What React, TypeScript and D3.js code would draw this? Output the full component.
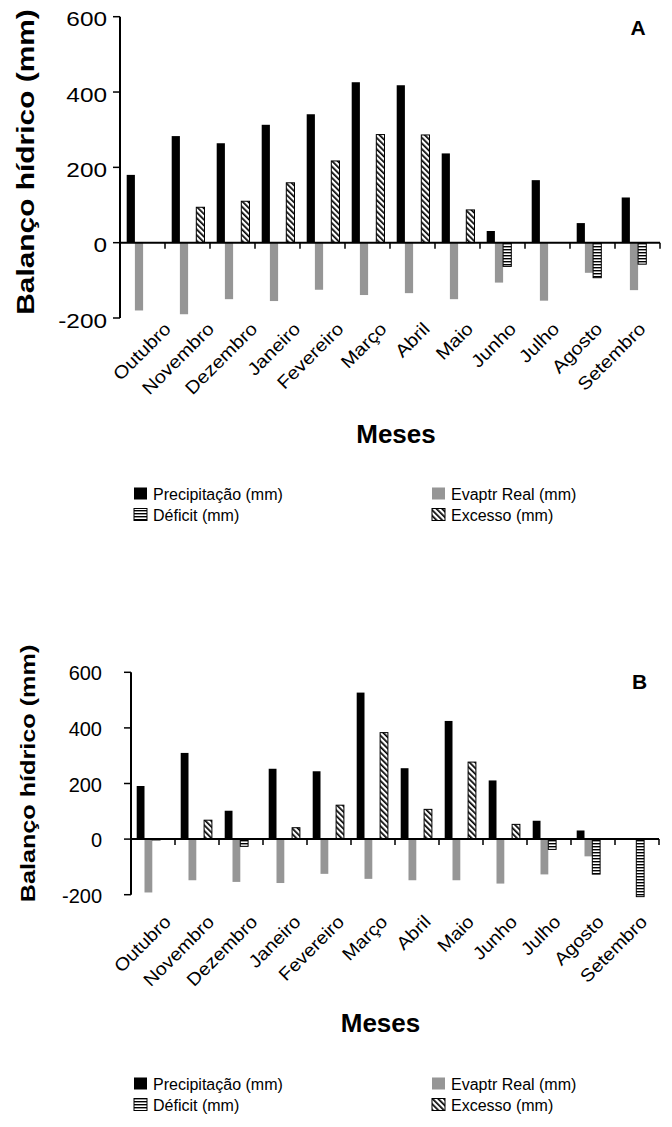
import React from "react";
import * as d3 from "d3";

const months = ["Outubro", "Novembro", "Dezembro", "Janeiro", "Fevereiro", "Março", "Abril", "Maio", "Junho", "Julho", "Agosto", "Setembro"];
const seriesKeys = ["prec", "evap", "def", "exc"];
const legendLabels = ["Precipitação (mm)", "Evaptr Real (mm)", "Déficit (mm)", "Excesso (mm)"];
const yTicks = [-200, 0, 200, 400, 600];

const precipA = [180, 283, 264, 313, 341, 426, 418, 237, 31, 166, 52, 120];
const evapA = [-180, -190, -150, -155, -125, -139, -134, -150, -106, -154, -80, -126];
const deficitA = [0, 0, 0, 0, 0, 0, 0, 0, -63, 0, -93, -57];
const excessoA = [0, 94, 110, 159, 217, 287, 286, 87, 0, 0, 0, 0];

const precipB = [191, 310, 102, 253, 244, 527, 255, 425, 211, 66, 31, 0];
const evapB = [-192, -148, -154, -158, -125, -143, -148, -148, -160, -127, -62, -3];
const deficitB = [-3, 0, -26, 0, 0, 0, 0, 0, 0, -37, -126, -207];
const excessoB = [0, 68, 0, 41, 122, 383, 107, 277, 53, 0, 0, 0];

const FONT = "'Liberation Sans', Arial, Helvetica, sans-serif";
const GRAY = "#969696";

function fillFor(key: string) {
  if (key === "prec") return "#000";
  if (key === "evap") return GRAY;
  if (key === "def") return "url(#hstripe)";
  return "url(#dstripe)";
}

function SText(props: any) {
  const { x, y, rotate = 0, sx = 1, size, weight = "normal", anchor = "start", children } = props;
  return (
    <g transform={`translate(${x},${y}) rotate(${rotate}) scale(${sx},1)`}>
      <text fontFamily={FONT} fontSize={size} fontWeight={weight} textAnchor={anchor} fill="#000">
        {children}
      </text>
    </g>
  );
}

function Chart(props: any) {
  const { cfg, values, letter } = props;
  const x0 = d3.scaleBand().domain(months).range(cfg.xRange).paddingInner(0).paddingOuter(0);
  const x1 = d3.scaleBand().domain(seriesKeys).range([cfg.barOffset, cfg.barOffset + 4 * cfg.barW]);
  const y = d3.scaleLinear().domain([-200, 600]).range(cfg.yRange);
  const y0 = y(0);
  const bw = x0.bandwidth();
  const bars: any[] = [];
  months.forEach((m, i) => {
    seriesKeys.forEach((k, j) => {
      const v = values[j][i];
      if (v === 0) return;
      const bx = (x0(m) as number) + (x1(k) as number);
      const top = Math.min(y(v), y0);
      const h = Math.abs(y(v) - y0);
      const patterned = k === "def" || k === "exc";
      bars.push(
        <rect key={m + k} x={bx} y={top} width={x1.bandwidth()} height={h}
          fill={fillFor(k)} stroke={patterned ? "#000" : "none"} strokeWidth={patterned ? 1 : 0} />
      );
    });
  });
  const [xs, xe] = cfg.xRange;
  const [yb, yt] = cfg.yRange;
  const lg = cfg.legend;
  return (
    <g>
      {bars}
      <line x1={xs} x2={xs} y1={yt} y2={yb} stroke="#000" strokeWidth={2} />
      {yTicks.map((t) => (
        <g key={t}>
          <line x1={xs - 7} x2={xs} y1={y(t)} y2={y(t)} stroke="#000" strokeWidth={1.5} />
          <SText x={cfg.yLabelRight} y={y(t) + cfg.yLabelDy} sx={cfg.yLabelSx} size={cfg.yLabelSize} anchor="end">{String(t)}</SText>
        </g>
      ))}
      <line x1={xs} x2={xe} y1={y0} y2={y0} stroke="#000" strokeWidth={2} />
      {months.map((m) => (
        <line key={m} x1={(x0(m) as number) + bw} x2={(x0(m) as number) + bw} y1={y0} y2={y0 + 6} stroke="#000" strokeWidth={1.5} />
      ))}
      {months.map((m) => {
        const c = (x0(m) as number) + bw / 2;
        const lx = cfg.lblX0 + cfg.lblK * (c - cfg.lblC0);
        return (
          <SText key={m} x={lx} y={cfg.lblY} rotate={-45} sx={cfg.lblSx} size={cfg.lblSize} anchor="end">{m}</SText>
        );
      })}
      <SText x={cfg.titleX} y={cfg.titleY} rotate={-90} sx={cfg.titleSx} size={cfg.titleSize} weight="bold" anchor="middle">Balanço hídrico (mm)</SText>
      <SText x={cfg.mesesX} y={cfg.mesesY} size={26} weight="bold" anchor="middle">Meses</SText>
      <SText x={cfg.letterX} y={cfg.letterY} size={21} weight="bold" anchor="middle">{letter}</SText>
      {legendLabels.map((l, i) => {
        const col = i % 2;
        const row = Math.floor(i / 2);
        const ix = lg.iconX[col];
        const by = lg.rows[row];
        const key = seriesKeys[i];
        const patterned = key === "def" || key === "exc";
        return (
          <g key={l}>
            <rect x={ix} y={by - 12.5} width={13} height={12} fill={fillFor(key)}
              stroke={patterned ? "#000" : "none"} strokeWidth={patterned ? 1 : 0} />
            <SText x={lg.textX[col]} y={by} size={16}>{l}</SText>
          </g>
        );
      })}
    </g>
  );
}

const cfgA = {
  xRange: [120, 660], yRange: [318, 16.7], barOffset: 6.7, barW: 8.2,
  yLabelRight: 107, yLabelDy: 9.5, yLabelSx: 1.25, yLabelSize: 19.5,
  lblX0: 172, lblK: 0.959, lblC0: 142.5, lblY: 330, lblSx: 1.12, lblSize: 18,
  titleX: 34, titleY: 162, titleSx: 1.3, titleSize: 23,
  mesesX: 396, mesesY: 443, letterX: 638, letterY: 35,
  legend: { iconX: [134, 432], textX: [153, 451], rows: [500, 521] },
};

const cfgB = {
  xRange: [131, 659], yRange: [894.7, 672.3], barOffset: 5.7, barW: 7.8,
  yLabelRight: 102, yLabelDy: 8, yLabelSx: 1, yLabelSize: 20,
  lblX0: 172, lblK: 0.984, lblC0: 153, lblY: 923, lblSx: 1.1, lblSize: 18,
  titleX: 34.5, titleY: 773.5, titleSx: 1.2, titleSize: 21,
  mesesX: 380.5, mesesY: 1032, letterX: 639.5, letterY: 689,
  legend: { iconX: [134, 432], textX: [153, 451], rows: [1090, 1111] },
};

export default function App() {
  return (
    <svg width={672} height={1127} style={{ position: "absolute", left: 0, top: 0, background: "#fff" }}>
      <defs>
        <pattern id="hstripe" patternUnits="userSpaceOnUse" width={4} height={3}>
          <rect width={4} height={3} fill="#fff" />
          <rect y={0} width={4} height={1.4} fill="#000" />
        </pattern>
        <pattern id="dstripe" patternUnits="userSpaceOnUse" width={4} height={4} patternTransform="rotate(-45)">
          <rect width={4} height={4} fill="#fff" />
          <rect x={0} width={1.7} height={4} fill="#000" />
        </pattern>
      </defs>
      <rect width={672} height={1127} fill="#fff" />
      <Chart cfg={cfgA} values={[precipA, evapA, deficitA, excessoA]} letter="A" />
      <Chart cfg={cfgB} values={[precipB, evapB, deficitB, excessoB]} letter="B" />
    </svg>
  );
}
